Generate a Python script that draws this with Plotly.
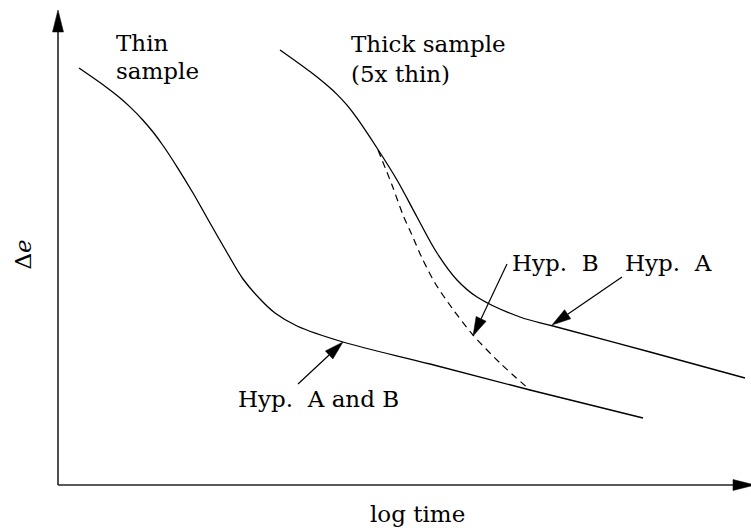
import numpy as np
import plotly.graph_objects as go

# ---- curves: Δe versus log time (arbitrary units, origin at the axes corner) ----
thin_t = [0.21, 0.47, 0.60, 0.72, 0.85, 0.95, 1.05, 1.19, 1.35, 1.52, 1.69, 1.85, 2.02, 2.17, 2.39, 2.85, 3.72, 4.72, 5.85]
thin_de = [4.17, 3.988, 3.887, 3.781, 3.648, 3.53, 3.395, 3.182, 2.92, 2.62, 2.325, 2.06, 1.86, 1.72, 1.59, 1.43, 1.21, 0.95, 0.67]

thick_t = [2.22, 2.52, 2.67, 2.79, 2.89, 2.99, 3.19, 3.39, 3.59, 3.79, 3.99, 4.19, 4.62, 4.95, 5.92, 6.87]
thick_de = [4.35, 4.134, 4.014, 3.906, 3.798, 3.668, 3.37, 3.05, 2.68, 2.32, 2.05, 1.88, 1.68, 1.59, 1.33, 1.07]

hypb_t = [3.20, 3.34, 3.45, 3.54, 3.64, 3.77, 3.94, 4.15, 4.42, 4.72]
hypb_de = [3.35, 3.00, 2.70, 2.50, 2.27, 2.02, 1.77, 1.50, 1.22, 0.95]

# ---- callouts: label text, arrow tail and arrow tip ----
callout_text = ["Hyp.\u00a0 A and B", "Hyp.\u00a0 B", "Hyp.\u00a0 A"]
callout_tail = [(2.40, 1.01), (4.49, 2.21), (5.64, 2.08)]
callout_tip = [(2.85, 1.43), (4.15, 1.49), (4.94, 1.60)]

# ---- free labels ----
label_text = ["Thin", "sample", "Thick sample", "(5x thin)"]

x_title = "log time"
y_title = "Δ<i>e</i>"

# layout constants
X_RANGE = [-0.58, 6.93]
Y_RANGE = [-0.47, 4.85]
FONT = "DejaVu Serif"
FS = 23
INK = "black"

fig = go.Figure()

fig.add_trace(go.Scatter(x=thin_t, y=thin_de, mode="lines",
                         line=dict(color=INK, width=1.3, shape="spline", smoothing=1.0)))
fig.add_trace(go.Scatter(x=thick_t, y=thick_de, mode="lines",
                         line=dict(color=INK, width=1.3, shape="spline", smoothing=1.0)))
fig.add_trace(go.Scatter(x=hypb_t, y=hypb_de, mode="lines",
                         line=dict(color=INK, width=1.2, dash="7px,5px", shape="spline", smoothing=0.8)))


def head_path(tail, tip, length=0.19, width=0.11):
    """Filled triangular arrowhead pointing from tail to tip (returns path, base point)."""
    t = np.array(tail, float)
    p = np.array(tip, float)
    d = p - t
    d /= np.hypot(*d)
    base = p - d * length
    n = np.array([-d[1], d[0]]) * width / 2
    a, b = base + n, base - n
    path = f"M{p[0]},{p[1]} L{a[0]},{a[1]} L{b[0]},{b[1]} Z"
    return path, base


def add_arrow(tail, tip, color=INK, lw=1.2, length=0.19, width=0.11):
    path, base = head_path(tail, tip, length, width)
    fig.add_shape(type="line", x0=tail[0], y0=tail[1], x1=base[0], y1=base[1],
                  line=dict(color=color, width=lw), layer="above")
    fig.add_shape(type="path", path=path, fillcolor=INK, line=dict(color=INK, width=0.5),
                  layer="above")


# axes with arrowheads
add_arrow((0, 0), (0, 4.75), color="#222", lw=1.6, length=0.22, width=0.11)
add_arrow((0, 0), (6.97, 0), color="#222", lw=1.6, length=0.22, width=0.11)

# callout arrows
for tail, tip in zip(callout_tail, callout_tip):
    add_arrow(tail, tip)

# label placement (left edge x, vertical centre y)
callout_pos = [(1.79, 0.865), (4.53, 2.225), (5.66, 2.225)]
label_pos = [(0.57, 4.425), (0.57, 4.145), (2.92, 4.415), (2.92, 4.115)]

for txt, (x, y) in zip(callout_text + label_text, callout_pos + label_pos):
    fig.add_annotation(x=x, y=y, text=txt, showarrow=False, xanchor="left", yanchor="middle",
                       font=dict(family=FONT, size=FS, color=INK), borderpad=0)

fig.add_annotation(x=3.59, y=-0.285, text=x_title, showarrow=False, xanchor="center",
                   yanchor="middle", font=dict(family=FONT, size=FS, color=INK), borderpad=0)
fig.add_annotation(x=-0.355, y=2.30, text=y_title, showarrow=False, textangle=-90,
                   xanchor="center", yanchor="middle",
                   font=dict(family=FONT, size=FS, color=INK), borderpad=0)

fig.update_xaxes(range=X_RANGE, visible=False, fixedrange=True)
fig.update_yaxes(range=Y_RANGE, visible=False, fixedrange=True)
fig.update_layout(width=751, height=532, margin=dict(l=0, r=0, t=0, b=0, pad=0),
                  paper_bgcolor="white", plot_bgcolor="white", showlegend=False,
                  font=dict(family=FONT))

fig.write_html("out.html")
